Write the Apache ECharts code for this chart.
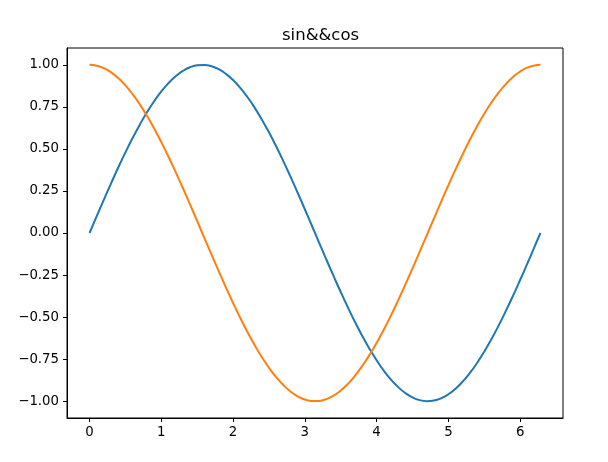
<!DOCTYPE html>
<html><head><meta charset="utf-8">
<script src="https://cdn.jsdelivr.net/npm/echarts@6/dist/echarts.min.js"></script>
<style>html,body{margin:0;padding:0;background:#fff}#c{width:608px;height:462px}</style>
</head><body><div id="c"></div>
<script>
const xs = [0,0.1,0.2,0.3,0.4,0.5,0.6,0.7,0.8,0.9,1.0,1.1,1.2,1.3,1.4,1.5,1.6,1.7,1.8,1.9,2.0,2.1,2.2,2.3,2.4,2.5,2.6,2.7,2.8,2.9,3.0,3.1,3.2,3.3,3.4,3.5,3.6,3.7,3.8,3.9,4.0,4.1,4.2,4.3,4.4,4.5,4.6,4.7,4.8,4.9,5.0,5.1,5.2,5.3,5.4,5.5,5.6,5.7,5.8,5.9,6.0,6.1,6.2,6.283];
const sinVals = [0,0.0998,0.1987,0.2955,0.3894,0.4794,0.5646,0.6442,0.7174,0.7833,0.8415,0.8912,0.9320,0.9636,0.9854,0.9975,0.9996,0.9917,0.9738,0.9463,0.9093,0.8632,0.8085,0.7457,0.6755,0.5985,0.5155,0.4274,0.3350,0.2392,0.1411,0.0416,-0.0584,-0.1577,-0.2555,-0.3508,-0.4425,-0.5298,-0.6119,-0.6878,-0.7568,-0.8183,-0.8716,-0.9162,-0.9516,-0.9775,-0.9937,-1.0,-0.9962,-0.9825,-0.9589,-0.9258,-0.8835,-0.8323,-0.7728,-0.7055,-0.6313,-0.5507,-0.4646,-0.3739,-0.2794,-0.1822,-0.0831,0];
const cosVals = [1,0.9950,0.9801,0.9553,0.9211,0.8776,0.8253,0.7648,0.6967,0.6216,0.5403,0.4536,0.3624,0.2675,0.1700,0.0707,-0.0292,-0.1288,-0.2272,-0.3233,-0.4161,-0.5048,-0.5885,-0.6663,-0.7374,-0.8011,-0.8569,-0.9041,-0.9422,-0.9710,-0.9900,-0.9991,-0.9983,-0.9875,-0.9668,-0.9365,-0.8968,-0.8481,-0.7910,-0.7259,-0.6536,-0.5748,-0.4903,-0.4008,-0.3073,-0.2108,-0.1122,-0.0124,0.0875,0.1865,0.2837,0.3780,0.4685,0.5544,0.6347,0.7087,0.7756,0.8347,0.8855,0.9275,0.9602,0.9833,0.9965,1];
const xTicks = [0,1,2,3,4,5,6];
const yTicks = [-1,-0.75,-0.5,-0.25,0,0.25,0.5,0.75,1];
const titleText = 'sin&&cos';

const chart = echarts.init(document.getElementById('c'), null, {renderer:'canvas'});
const font = 'DejaVu Sans';
const axisCommon = {
  axisLine:{show:true,onZero:false,lineStyle:{color:'#000',width:1}},
  axisTick:{show:true,inside:false,length:4,lineStyle:{color:'#000',width:1}},
  splitLine:{show:false},
  axisLabel:{color:'#000',fontFamily:font,fontSize:13.3}
};
chart.setOption({
  animation:false,
  backgroundColor:'#fff',
  title:{text:titleText,left:277,top:22,textStyle:{fontFamily:font,fontSize:16.5,fontWeight:'normal',color:'#000'}},
  grid:{left:67,right:45,top:48,bottom:44,show:true,borderColor:'#000',borderWidth:1,containLabel:false},
  xAxis:Object.assign({},axisCommon,{type:'value',min:-0.31416,max:6.59734,
    axisTick:Object.assign({},axisCommon.axisTick,{customValues:xTicks}),
    axisLabel:Object.assign({},axisCommon.axisLabel,{customValues:xTicks,margin:8,formatter:v=>String(v)})}),
  yAxis:Object.assign({},axisCommon,{type:'value',min:-1.1,max:1.1,
    axisTick:Object.assign({},axisCommon.axisTick,{customValues:yTicks}),
    axisLabel:Object.assign({},axisCommon.axisLabel,{customValues:yTicks,margin:8,formatter:v=>v.toFixed(2).replace('-','\u2212')})}),
  series:[
    {type:'line',data:xs.map((x,i)=>[x,sinVals[i]]),smooth:true,showSymbol:false,lineStyle:{color:'#1f77b4',width:2},itemStyle:{color:'#1f77b4'}},
    {type:'line',data:xs.map((x,i)=>[x,cosVals[i]]),smooth:true,showSymbol:false,lineStyle:{color:'#ff7f0e',width:2},itemStyle:{color:'#ff7f0e'}}
  ]
});
</script></body></html>
